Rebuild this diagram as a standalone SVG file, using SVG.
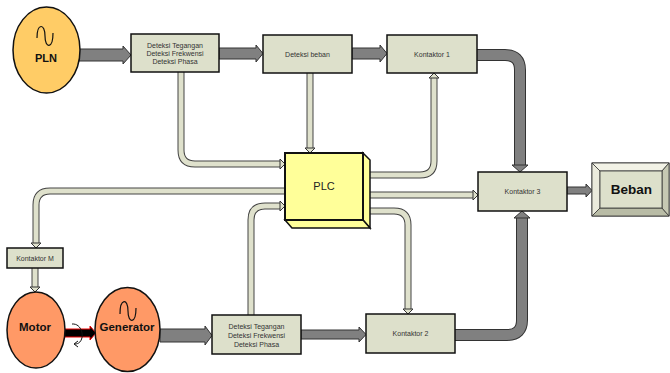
<svg xmlns="http://www.w3.org/2000/svg" width="670" height="373" viewBox="0 0 670 373">
<style>
.box{fill:#dde0cb;stroke:#111;stroke-width:1.5}
.t{font-family:"Liberation Sans",Arial,sans-serif;font-size:7px;fill:#333;text-anchor:middle}
.b{font-family:"Liberation Sans",Arial,sans-serif;font-weight:bold;fill:#111;text-anchor:middle}
.ga{fill:#808080;stroke:#333;stroke-width:1}
.go{fill:none;stroke:#333;stroke-width:12}
.gi{fill:none;stroke:#808080;stroke-width:10}
.lo{fill:none;stroke:#444;stroke-width:7}
.li{fill:none;stroke:#dfe1cc;stroke-width:5}
.lh{fill:#dfe1cc;stroke:#333;stroke-width:1}
.sine{fill:none;stroke:#111;stroke-width:1.2}
</style>
<rect width="670" height="373" fill="#fff"/>
<g id="connectors">
  <polygon class="ga" points="79,49 123,49 123,46 131,55 123,64 123,61 79,61"/>
  <polygon class="ga" points="219,48 256,48 256,45 263,53.5 256,62 256,59 219,59"/>
  <polygon class="ga" points="352,48 380,48 380,45 387,53.5 380,62 380,59 352,59"/>
  <path class="go" d="M477 55 H505 Q520 55 520 70 V165"/>
  <path class="gi" d="M476 55 H505 Q520 55 520 70 V166"/>
  <polygon class="ga" points="512,165 528,165 520,172"/>
  <polygon class="ga" points="567,187 586,187 586,184 592,190.5 586,197 586,194 567,194"/>
  <polygon class="ga" points="160,329 205,329 205,326 212,335.5 205,345 205,342 160,342"/>
  <polygon class="ga" points="301,330 359,330 359,327 366,334.5 359,342 359,339 301,339"/>
  <path class="go" d="M455 335 H507 Q522 335 522 320 V218"/>
  <path class="gi" d="M454 335 H507 Q522 335 522 320 V217"/>
  <polygon class="ga" points="514,218 530,218 522,211"/>
  <polygon points="64,329 90,329 90,326 96,333 90,340 90,337 64,337" fill="#000" stroke="#e00" stroke-width="1"/>
  <path d="M72 324 C84 323, 86 344, 75 344" fill="none" stroke="#111" stroke-width="1"/>
  <polyline points="78,341 74,344 78,347" fill="none" stroke="#111" stroke-width="1"/>
  <path class="lo" d="M181 72 V150 Q181 164 195 164 H281"/>
  <path class="li" d="M181 71 V150 Q181 164 195 164 H281"/>
  <polygon class="lh" points="280,159 285,164 280,169"/>
  <path class="lo" d="M310 73 V149"/>
  <path class="li" d="M310 72 V149"/>
  <polygon class="lh" points="305,148 315,148 310,153"/>
  <path class="lo" d="M370 175 H420 Q434 175 434 161 V77"/>
  <path class="li" d="M369 175 H420 Q434 175 434 161 V77"/>
  <polygon class="lh" points="429,78 439,78 434,73"/>
  <path class="lo" d="M370 195 H474"/>
  <path class="li" d="M369 195 H474"/>
  <polygon class="lh" points="473,190 478,195 473,200"/>
  <path class="lo" d="M370 211 H394 Q408 211 408 225 V310"/>
  <path class="li" d="M369 211 H394 Q408 211 408 225 V310"/>
  <polygon class="lh" points="403,309 413,309 408,314"/>
  <path class="lo" d="M251 315 V220 Q251 206 265 206 H281"/>
  <path class="li" d="M251 316 V220 Q251 206 265 206 H281"/>
  <polygon class="lh" points="280,201 285,206 280,211"/>
  <path class="lo" d="M285 191 H50 Q36 191 36 205 V244"/>
  <path class="li" d="M286 191 H50 Q36 191 36 205 V244"/>
  <polygon class="lh" points="31,243 41,243 36,248"/>
  <path class="lo" d="M35 268 V288"/>
  <path class="li" d="M35 267 V288"/>
  <polygon class="lh" points="30,287 40,287 35,292"/>
</g>
<g id="pln">
  <ellipse cx="46.5" cy="50" rx="33.5" ry="43" fill="#ffcc66" stroke="#111" stroke-width="1.5"/>
  <path class="sine" d="M37 38 C37 23, 45 23, 45 36 C45 49, 53 49, 53 33"/>
  <text class="b" x="46" y="62" font-size="11">PLN</text>
</g>
<g id="deteksi1">
  <rect class="box" x="131" y="34" width="88" height="38"/>
  <text class="t" x="175" y="47.5">Deteksi Tegangan</text>
  <text class="t" x="175" y="55.5">Deteksi Frekwensi</text>
  <text class="t" x="175" y="64">Deteksi Phasa</text>
</g>
<g id="deteksibeban">
  <rect class="box" x="263" y="35" width="89" height="38"/>
  <text class="t" x="307.5" y="56.5">Deteksi beban</text>
</g>
<g id="kontaktor1">
  <rect class="box" x="387" y="35" width="90" height="38"/>
  <text class="t" x="432" y="56.5">Kontaktor 1</text>
</g>
<g id="plc">
  <polygon points="363,153 370,160 370,228 363,220" fill="#ffff99" stroke="#111" stroke-width="1.5"/>
  <polygon points="285,220 363,220 370,228 292,228" fill="#ffff99" stroke="#111" stroke-width="1.5"/>
  <rect x="285" y="153" width="78" height="67" fill="#ffff99" stroke="#111" stroke-width="2"/>
  <text x="324" y="190" font-family="Liberation Sans,Arial,sans-serif" font-size="11" fill="#222" text-anchor="middle">PLC</text>
</g>
<g id="kontaktor3">
  <rect class="box" x="478" y="172" width="89" height="39"/>
  <text class="t" x="522.5" y="193.5">Kontaktor 3</text>
</g>
<g id="beban">
  <rect x="592" y="163" width="77" height="53" fill="#dde0cb" stroke="#333" stroke-width="1"/>
  <polygon points="592,163 669,163 662,171 600,171" fill="#f2f2e6" stroke="#333" stroke-width="0.8"/>
  <polygon points="592,163 600,171 600,208 592,216" fill="#eaeadc" stroke="#333" stroke-width="0.8"/>
  <polygon points="592,216 600,208 662,208 669,216" fill="#b9bca6" stroke="#333" stroke-width="0.8"/>
  <polygon points="669,163 662,171 662,208 669,216" fill="#c6c8b3" stroke="#333" stroke-width="0.8"/>
  <rect x="600" y="171" width="62" height="37" fill="#dde0cb" stroke="#333" stroke-width="0.8"/>
  <text class="b" x="631.5" y="194" font-size="13.5">Beban</text>
</g>
<g id="kontaktorM">
  <rect class="box" x="7" y="248" width="56" height="20"/>
  <text class="t" x="35" y="261">Kontaktor M</text>
</g>
<g id="motor">
  <ellipse cx="36" cy="330" rx="29" ry="38" fill="#ff9966" stroke="#111" stroke-width="1.5"/>
  <text class="b" x="35" y="331" font-size="11.5">Motor</text>
</g>
<g id="generator">
  <ellipse cx="127.5" cy="329.5" rx="32.5" ry="42" fill="#ff9966" stroke="#111" stroke-width="1.5"/>
  <path class="sine" d="M120 314 C120 298, 128 298, 128 311 C128 324, 136 324, 136 308"/>
  <text class="b" x="127" y="331" font-size="11.5">Generator</text>
</g>
<g id="deteksi2">
  <rect class="box" x="212" y="315" width="89" height="39"/>
  <text class="t" x="256.5" y="329">Deteksi Tegangan</text>
  <text class="t" x="256.5" y="337.5">Deteksi Frekwensi</text>
  <text class="t" x="256.5" y="346.5">Deteksi Phasa</text>
</g>
<g id="kontaktor2">
  <rect class="box" x="366" y="314" width="89" height="39"/>
  <text class="t" x="410.5" y="335.5">Kontaktor 2</text>
</g>
</svg>
